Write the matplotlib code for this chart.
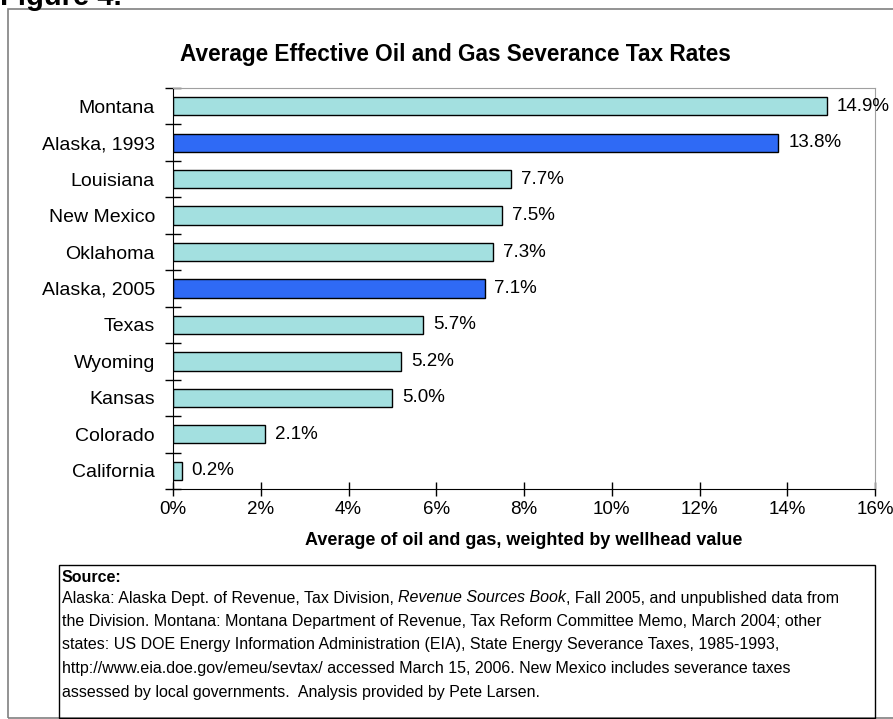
import matplotlib
matplotlib.use("Agg")
from matplotlib import pyplot as plt
from matplotlib.patches import Rectangle
import numpy as np

plt.rcParams['font.family'] = ['Liberation Sans', 'DejaVu Sans']

states = ["Montana", "Alaska, 1993", "Louisiana", "New Mexico", "Oklahoma",
          "Alaska, 2005", "Texas", "Wyoming", "Kansas", "Colorado", "California"]
rates = [14.9, 13.8, 7.7, 7.5, 7.3, 7.1, 5.7, 5.2, 5.0, 2.1, 0.2]
highlight = ["Alaska, 1993", "Alaska, 2005"]
xticks = [0, 2, 4, 6, 8, 10, 12, 14, 16]

light = "#A3E0E0"
blue = "#2F6AF5"

W, H = 893, 719
fig = plt.figure(figsize=(W / 100, H / 100), dpi=100)

# outer frame (runs off the right edge)
fig.patches.append(Rectangle((8 / W, 1 - 718 / H), 1.2, (718 - 9) / H,
                             transform=fig.transFigure, fill=False,
                             edgecolor="#808080", lw=1.2))
fig.text(0, 1 - 5 / H, "Figure 4.", fontsize=21, fontweight="bold",
         va="baseline", ha="left")

ax = fig.add_axes([173 / W, 1 - 489 / H, (875 - 173) / W, (489 - 88) / H])
y = np.arange(len(states))
colors = [blue if s in highlight else light for s in states]
ax.barh(y, rates, height=0.5, color=colors, edgecolor="black", lw=1)
for yi, v in zip(y, rates):
    ax.annotate(f"{v:.1f}%", (v, yi), xytext=(7, 0), textcoords="offset points",
                va="center", ha="left", fontsize=13.5, annotation_clip=False)

ax.set_xlim(0, 16)
ax.set_ylim(len(states) - 0.5, -0.5)
ax.set_xticks(xticks)
ax.set_xticklabels([f"{t}%" for t in xticks], fontsize=13.5)
ax.set_yticks(y)
ax.set_yticklabels(states, fontsize=14)
ax.set_yticks(np.arange(len(states) + 1) - 0.5, minor=True)
ax.tick_params(axis="y", which="major", length=0, pad=13)
ax.tick_params(axis="y", which="minor", direction="inout", length=12, width=1)
ax.tick_params(axis="x", direction="inout", length=10, width=1, pad=4)
for s in ["top", "right"]:
    ax.spines[s].set_color("#A0A0A0")
for s in ["left", "bottom"]:
    ax.spines[s].set_color("black")
ax.set_xlabel("Average of oil and gas, weighted by wellhead value",
              fontsize=13, fontweight="bold", labelpad=10)

fig.text(455 / W, 1 - 55 / H, "Average Effective Oil and Gas Severance Tax Rates",
         fontsize=16.3, fontweight="bold", ha="center", va="center")

# source box
fig.patches.append(Rectangle((59 / W, 1 - 718 / H), (875 - 59) / W, (718 - 565) / H,
                             transform=fig.transFigure, fill=False,
                             edgecolor="black", lw=1))
fs = 11.5
lx = 62 / W
fig.text(lx, 1 - 578 / H, "Source:", fontsize=fs, fontweight="bold", va="center")

renderer = fig.canvas.get_renderer()
ly = 1 - 598 / H
x0 = lx
for part, style in [("Alaska: Alaska Dept. of Revenue, Tax Division, ", "normal"),
                    ("Revenue Sources Book", "italic"),
                    (", Fall 2005, and unpublished data from", "normal")]:
    t = fig.text(x0, ly, part, fontsize=fs, style=style, va="center")
    bb = t.get_window_extent(renderer)
    x0 += bb.width / W

lines = [
    "the Division. Montana: Montana Department of Revenue, Tax Reform Committee Memo, March 2004; other",
    "states: US DOE Energy Information Administration (EIA), State Energy Severance Taxes, 1985-1993,",
    "http://www.eia.doe.gov/emeu/sevtax/ accessed March 15, 2006. New Mexico includes severance taxes",
    "assessed by local governments.  Analysis provided by Pete Larsen.",
]
for i, line in enumerate(lines):
    fig.text(lx, 1 - (621.5 + 23.5 * i) / H, line, fontsize=fs, va="center")

fig.savefig("out.png", dpi=100)
